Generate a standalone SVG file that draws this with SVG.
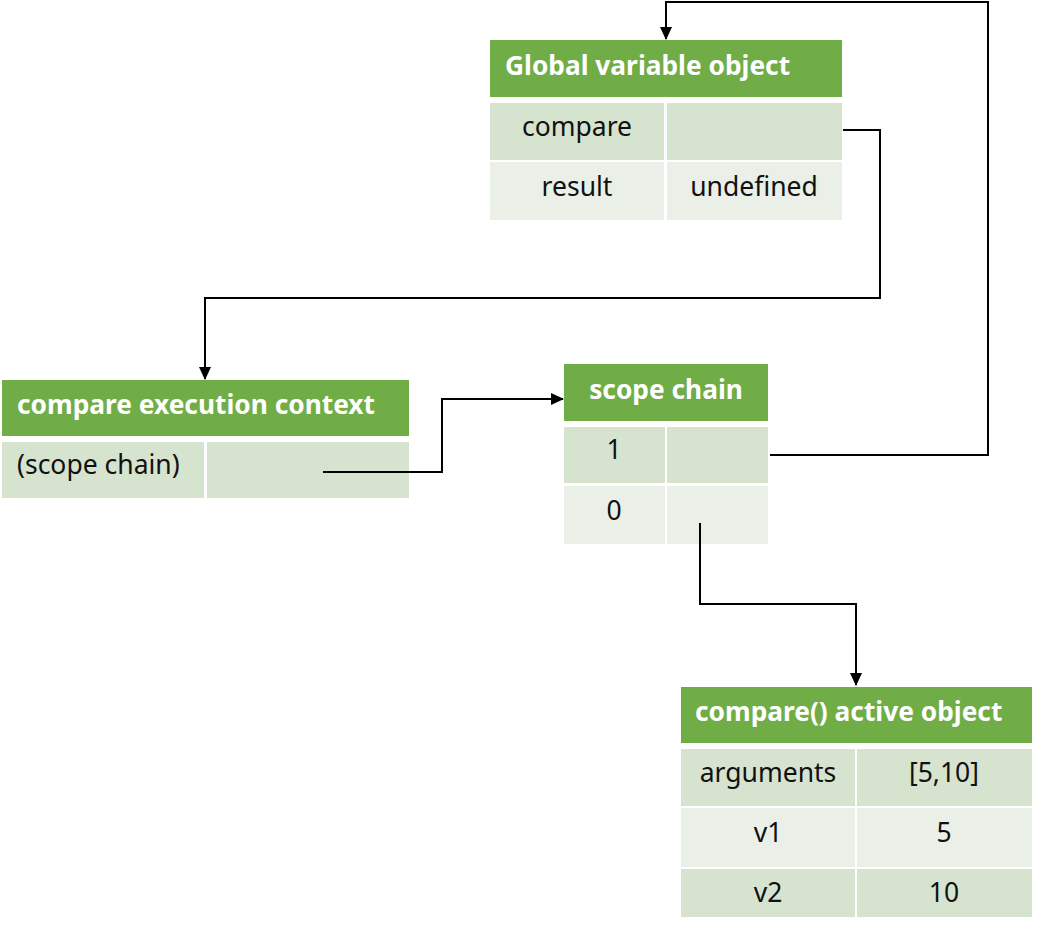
<svg xmlns="http://www.w3.org/2000/svg" width="1038" height="928" viewBox="0 0 1038 928">
<style>
.hd{fill:#70AD47}
.dk{fill:#D6E3CF}
.lt{fill:#EAEFE8}
.ht{font-family:"Noto Sans","Liberation Sans",sans-serif;font-weight:bold;font-size:26.3px;fill:#fff;dominant-baseline:central}
.tx{font-family:"Noto Sans","Liberation Sans",sans-serif;font-size:26.5px;fill:#111;dominant-baseline:central;text-anchor:middle}
.cn{fill:none;stroke:#000;stroke-width:2;marker-end:url(#ah)}
</style>
<defs>
<marker id="ah" markerUnits="userSpaceOnUse" markerWidth="14" markerHeight="14" refX="12" refY="7" orient="auto">
<path d="M0,1 L13,7 L0,13 Z" fill="#000"/>
</marker>
</defs>
<rect width="1038" height="928" fill="#fff"/>
<g id="global">
<rect class="hd" x="490" y="40" width="352" height="57"/>
<text class="ht" x="505" y="65">Global variable object</text>
<rect class="dk" x="490" y="103" width="174" height="57"/>
<rect class="dk" x="667" y="103" width="175" height="57"/>
<rect class="lt" x="490" y="162" width="174" height="58"/>
<rect class="lt" x="667" y="162" width="175" height="58"/>
<text class="tx" x="577" y="126">compare</text>
<text class="tx" x="577" y="186">result</text>
<text class="tx" x="754" y="186">undefined</text>
</g>
<g id="exec">
<rect class="hd" x="2" y="380" width="407" height="56"/>
<text class="ht" x="17" y="404">compare execution context</text>
<rect class="dk" x="2" y="442" width="202" height="56"/>
<rect class="dk" x="207" y="442" width="202" height="56"/>
<text class="tx" x="17" y="464" style="text-anchor:start">(scope chain)</text>
</g>
<g id="scope">
<rect class="hd" x="564" y="364" width="204" height="57"/>
<text class="ht" x="666" y="389" style="text-anchor:middle">scope chain</text>
<rect class="dk" x="564" y="427" width="101" height="56"/>
<rect class="dk" x="667" y="427" width="101" height="56"/>
<rect class="lt" x="564" y="486" width="101" height="58"/>
<rect class="lt" x="667" y="486" width="101" height="58"/>
<text class="tx" x="614" y="449">1</text>
<text class="tx" x="614" y="510">0</text>
</g>
<g id="active">
<rect class="hd" x="681" y="687" width="351" height="56"/>
<text class="ht" x="695" y="711">compare() active object</text>
<rect class="dk" x="681" y="749" width="174" height="57"/>
<rect class="dk" x="857" y="749" width="175" height="57"/>
<rect class="lt" x="681" y="808" width="174" height="59"/>
<rect class="lt" x="857" y="808" width="175" height="59"/>
<rect class="dk" x="681" y="869" width="174" height="48"/>
<rect class="dk" x="857" y="869" width="175" height="48"/>
<text class="tx" x="768" y="772">arguments</text>
<text class="tx" x="944" y="832">5</text>
<text class="tx" x="944" y="772">[5,10]</text>
<text class="tx" x="768" y="832">v1</text>
<text class="tx" x="768" y="892">v2</text>
<text class="tx" x="944" y="892">10</text>
</g>
<g id="connectors">
<path class="cn" d="M843,130 H880 V298 H205 V379"/>
<path class="cn" d="M323,472 H442 V399 H563"/>
<path class="cn" d="M770,455 H988 V2 H666 V39"/>
<path class="cn" d="M700,523 V604 H856 V685"/>
</g>
</svg>
